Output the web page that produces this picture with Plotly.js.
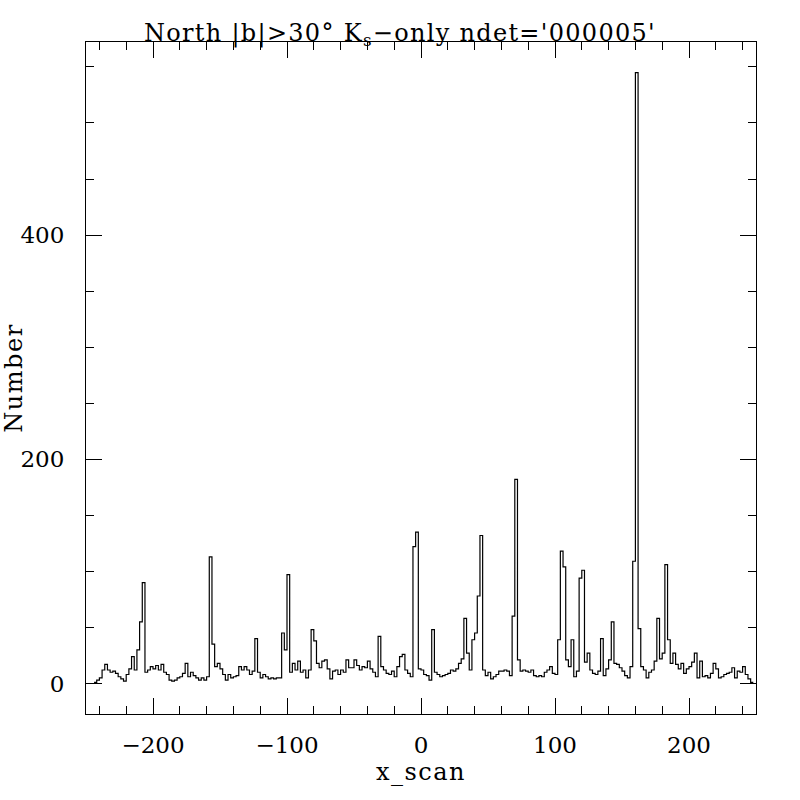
<!DOCTYPE html>
<html>
<head>
<meta charset="utf-8">
<script src="https://cdn.plot.ly/plotly-3.0.1.min.js"></script>
<style>
  body { margin: 0; background: #fff; }
  #plotElement { width: 800px; height: 800px; }
  .gtitle { letter-spacing: 1.3px; }
  .xtitle, .ytitle { letter-spacing: 1.5px; }
</style>
</head>
<body>
<div id="plotElement"></div>
<script>
// histogram of x_scan, 2-unit bins starting at -244
const binStart = -244;
const binWidth = 2;
const counts = [
    1, 3, 5, 12, 17, 12, 10, 11, 9, 6,            // -244 .. -226
    4, 2, 8, 13, 24, 12, 30, 55, 90, 10,          // -224 .. -206
    12, 15, 13, 16, 12, 17, 10, 8, 3, 2,          // -204 .. -186
    3, 5, 6, 9, 18, 6, 10, 7, 5, 3,               // -184 .. -166
    5, 3, 6, 113, 35, 15, 18, 13, 8, 3,           // -164 .. -146
    8, 5, 6, 7, 15, 12, 15, 12, 8, 11,            // -144 .. -126
    40, 10, 5, 8, 6, 4, 5, 4, 5, 5,               // -124 .. -106
    45, 30, 97, 10, 18, 12, 20, 10, 12, 5,        // -104 .. -86
    12, 48, 38, 18, 14, 20, 21, 13, 4, 11,        // -84 .. -66
    12, 8, 12, 10, 21, 14, 14, 21, 16, 12,        // -64 .. -46
    15, 14, 20, 13, 10, 6, 42, 15, 12, 9,         // -44 .. -26
    8, 11, 6, 15, 24, 26, 12, 9, 6, 122,          // -24 .. -6
    135, 13, 12, 8, 7, 3, 48, 10, 8, 6,           // -4 .. 14
    7, 8, 9, 12, 11, 13, 18, 22, 58, 27,          // 16 .. 34
    12, 39, 45, 78, 132, 12, 7, 10, 4, 6,         // 36 .. 54
    8, 11, 11, 12, 11, 7, 60, 182, 21, 11,        // 56 .. 74
    12, 11, 10, 12, 7, 6, 7, 6, 10, 12,           // 76 .. 94
    15, 9, 8, 39, 118, 104, 21, 15, 39, 6,        // 96 .. 114
    11, 94, 101, 19, 27, 12, 9, 8, 11, 40,        // 116 .. 134
    7, 13, 21, 55, 18, 17, 14, 11, 7, 5,          // 136 .. 154
    15, 109, 545, 49, 15, 12, 5, 10, 12, 20,      // 156 .. 174
    58, 22, 27, 106, 39, 18, 27, 17, 13, 18,      // 176 .. 194
    9, 13, 15, 19, 27, 5, 20, 6, 7, 5,            // 196 .. 214
    9, 18, 13, 5, 6, 8, 9, 10, 14, 5,             // 216 .. 234
    11, 10, 15, 8, 4, 1                           // 236 .. 246
];
const xRange = [-250, 250];
const yRange = [-27.25, 572.25];

const edges = counts.map((_, i) => binStart + i * binWidth);
const xs = edges.concat([binStart + counts.length * binWidth]);
const ys = counts.concat([counts[counts.length - 1]]);

const serif = 'DejaVu Serif, Liberation Serif, serif';

const data = [{
    type: 'scatter',
    mode: 'lines',
    x: xs,
    y: ys,
    line: { color: '#000', width: 1.2, shape: 'hv' },
    hoverinfo: 'skip'
}];

const axisCommon = {
    showgrid: false,
    zeroline: false,
    showline: true,
    linecolor: '#000',
    linewidth: 1,
    mirror: 'allticks',
    ticks: 'inside',
    tickcolor: '#000',
    tickwidth: 1,
    ticklen: 16,
    tickfont: { family: serif, size: 23, color: '#000' }
};

const layout = {
    width: 800,
    height: 800,
    paper_bgcolor: '#fff',
    plot_bgcolor: '#fff',
    showlegend: false,
    margin: { l: 86, r: 44, t: 42, b: 86 },
    font: { family: serif, color: '#000' },
    title: {
        text: "North |b|>30° K<sub>s</sub>−only ndet='000005'",
        font: { family: serif, size: 24, color: '#000' },
        x: 0.5,
        xanchor: 'center',
        yref: 'container',
        y: 1 - 33 / 800,
        yanchor: 'middle'
    },
    xaxis: Object.assign({}, axisCommon, {
        range: xRange,
        tickmode: 'linear',
        tick0: 0,
        dtick: 100,
        ticklabelstandoff: 10,
        minor: { ticks: 'inside', ticklen: 8, tickcolor: '#000', dtick: 20, tick0: 0 },
        title: { text: 'x_scan', font: { family: serif, size: 24, color: '#000' }, standoff: 4 }
    }),
    yaxis: Object.assign({}, axisCommon, {
        range: yRange,
        tickmode: 'linear',
        tick0: 0,
        dtick: 200,
        ticklabelstandoff: 16,
        minor: { ticks: 'inside', ticklen: 8, tickcolor: '#000', dtick: 50, tick0: 0 },
        title: { text: 'Number', font: { family: serif, size: 24, color: '#000' }, standoff: 2 }
    })
};

Plotly.newPlot('plotElement', data, layout, { staticPlot: true });
</script>
</body>
</html>
